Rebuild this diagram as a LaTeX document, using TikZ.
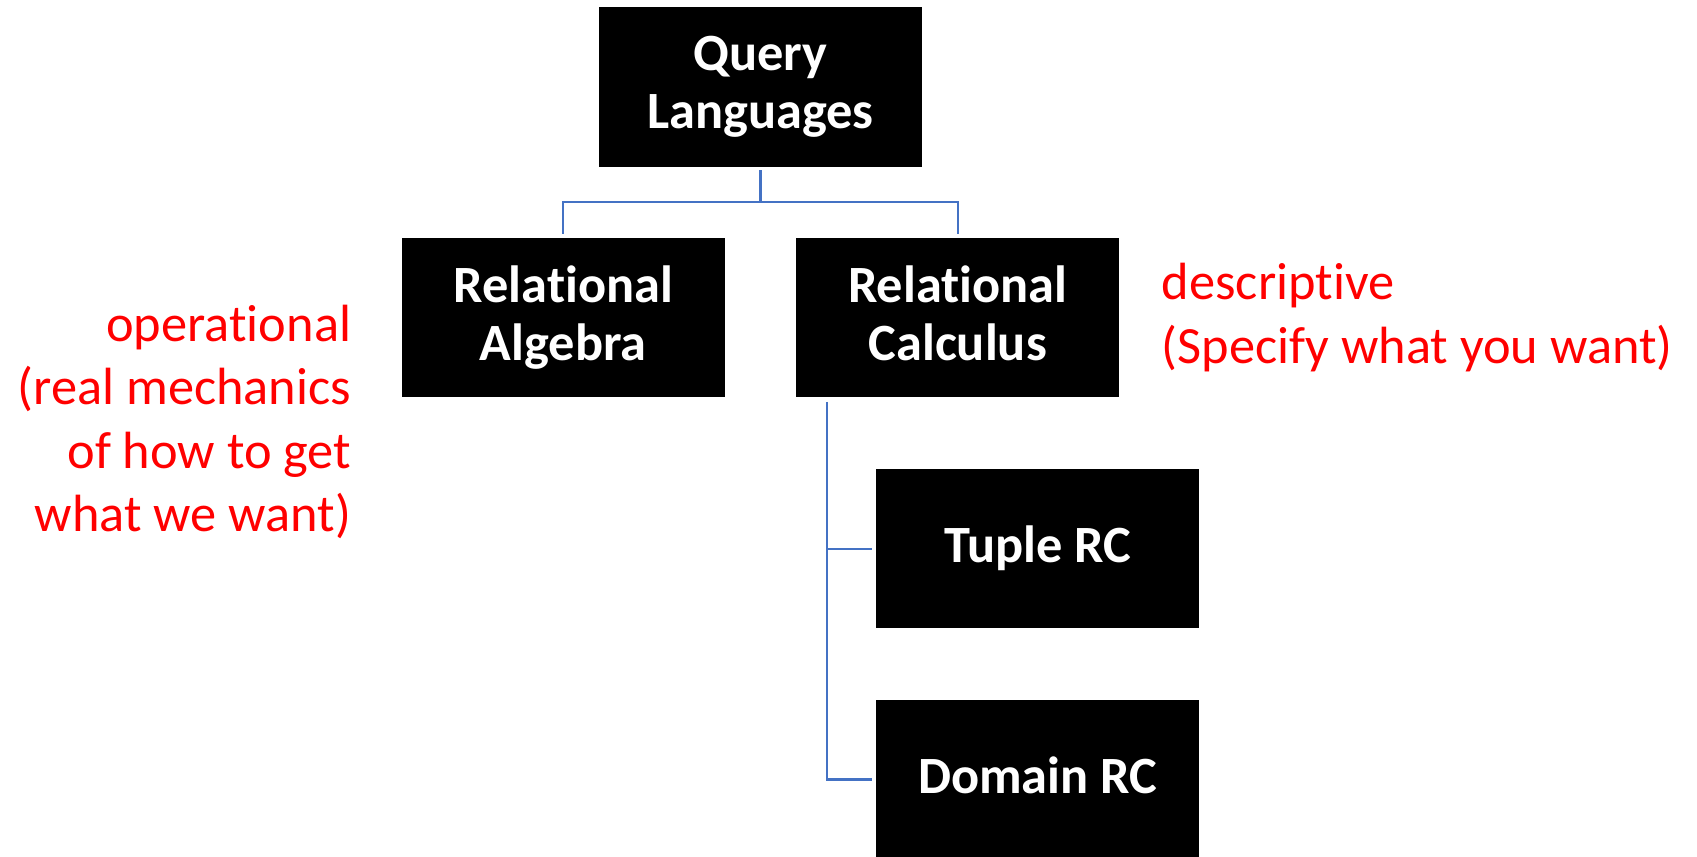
\documentclass[tikz,border=0pt]{standalone}
\usepackage{fontspec}
\setmainfont{Carlito}[Ligatures=NoCommon]
\usepackage{tikz}
\usetikzlibrary{positioning, calc}
\definecolor{linkcolor}{HTML}{4472C4}
\definecolor{notecolor}{HTML}{FF0000}

\begin{document}
\begin{tikzpicture}[
    node distance=0.715cm,
    box/.style={fill=black, draw=black, text=white, minimum width=3.215cm,
                minimum height=1.58cm, align=center, inner sep=0pt,
                font=\fontsize{14.9}{16.5}\selectfont\bfseries,
                execute at end node=\vphantom{g}},
    note/.style={text=notecolor, inner sep=0pt,
                 font=\fontsize{14.9}{18.06}\selectfont},
    link/.style={draw=linkcolor, line width=0.6pt}
]
    \useasboundingbox (0,0) rectangle (16.97,-8.56);

    \node[box] (alg) at (5.633,-3.177) {Relational\\Algebra};
    \node[box, right=of alg] (calc) {Relational\\Calculus};
    \coordinate (mid) at ($(alg.north)!0.5!(calc.north)$);
    \node[box, above=of mid] (qry) {Query\\Languages};

    \node[box, below=of calc, xshift=0.8cm] (tup) {Tuple RC};
    \node[box, below=of tup] (dom) {Domain RC};

    % side notes
    \node[note, align=right, left=0.50cm of alg, yshift=-1.04cm] (opnote)
          {operational\\(real mechanics\\of how to get\\what we want)};
    \node[note, align=left, right=0.42cm of calc] (denote)
          {descriptive\\(Specify what you want)};

    % tree lines
    \draw[link, shorten <=0.35mm] (qry.south) -- ++(0,-0.355) coordinate (fork);
    \draw[link, shorten >=0.4mm] (fork) -| (alg.north);
    \draw[link, shorten >=0.4mm] (fork) -| (calc.north);

    \coordinate (spine) at ([xshift=0.305cm, yshift=-0.45mm]calc.south west);
    \draw[link] (spine) |- ([xshift=-0.45mm]dom.west);
    \draw[link] (spine |- tup.west) -- ([xshift=-0.45mm]tup.west);
\end{tikzpicture}
\end{document}
